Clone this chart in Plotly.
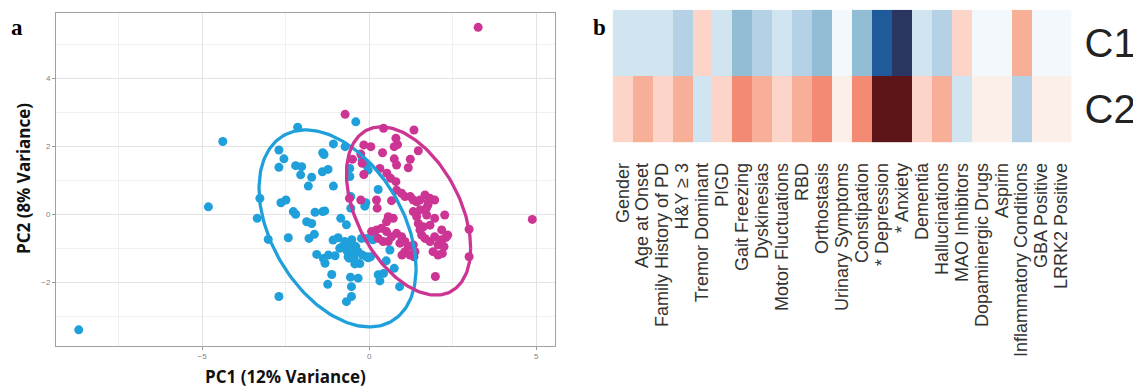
import numpy as np
import plotly.graph_objects as go

# ---------------- data: panel a (PCA scores) ----------------
blue_x = [-8.69, -4.81, -4.38, -2.14, -2.70, -2.55, -2.70, -2.20, -2.02, -2.05,
          -1.72, -1.82, -1.39, -1.35, -1.07, -1.40, -1.23, -1.07, -0.72, -0.40,
          -0.58, -0.58, -0.21, -0.08, -0.03, 0.27, -0.10, -0.13, -0.55, -0.55,
          -3.27, -3.35, -3.02, -2.64, -2.49, -2.27, -2.20, -2.42, -1.87, -1.72,
          -1.62, -1.33, -1.39, -1.80, -1.64, -0.85, -0.68, -1.08, -0.93, -0.73,
          -0.58, -0.68, -0.51, -0.63, -0.45, -0.40, -0.52, -1.57, -1.37, -1.22,
          -1.32, -1.02, -1.12, -1.24, -2.70, -0.68, -0.53, -0.53, -0.56, -0.33,
          -0.23, -0.33, -0.08, -0.28, -0.20, 0.27, 0.32, 0.43, 0.51, 0.75,
          0.91, 0.11, 0.21, -0.03, -0.60, -0.43, -0.88, -0.80, -0.55, 0.04,
          -0.08, 0.62]
blue_y = [-3.40, 0.22, 2.14, 2.56, 1.89, 1.63, 1.38, 1.43, 1.40, 1.16,
          1.09, 0.83, 1.81, 1.76, 2.07, 1.25, 1.32, 0.83, 1.99, 2.72,
          1.35, 1.11, 1.60, 1.45, 1.30, 0.73, 0.34, 0.24, 0.52, 0.18,
          0.47, -0.12, -0.74, 0.34, 0.42, 0.08, 0.00, -0.69, -0.22, -0.27,
          0.06, 0.10, 0.08, -0.71, -0.59, -0.12, -0.31, -0.76, -0.69, -0.80,
          -0.90, -1.05, -1.10, -1.25, -1.30, -0.95, -0.75, -1.18, -1.30, -1.20,
          -1.44, -1.22, -1.77, -2.06, -2.42, -2.57, -2.42, -2.13, -1.85, -1.88,
          -0.71, -1.10, -1.25, -1.45, -1.20, -1.78, -1.96, -1.74, -1.37, -1.59,
          -2.13, -0.75, -0.68, -1.28, -1.29, -1.46, -1.00, -0.95, -1.00, -1.25,
          -0.71, -1.05]

pink_x = [3.26, 4.88, -0.72, 0.43, 1.34, 0.80, 0.85, 0.75, -0.16, 0.05,
          0.40, 1.47, 0.75, 0.82, 1.23, 1.17, -0.50, -0.25, -0.21, -0.16,
          0.32, 0.53, 0.64, 0.80, 0.82, 0.97, 1.07, 1.67, 1.82, 1.96,
          1.77, 1.32, 1.42, 1.52, 0.67, 0.22, -0.59, -0.25, 0.24, 0.57,
          0.72, 0.52, 1.42, 1.32, 1.52, 1.72, 1.96, 1.82, 1.62, 1.47,
          0.07, 0.22, 0.37, 0.52, 0.67, 0.57, 0.42, 0.27, 0.82, 0.97,
          1.07, 0.92, 1.17, 1.07, 1.22, 1.32, 1.37, 1.57, 1.67, 1.82,
          1.96, 2.06, 2.16, 1.91, 2.06, 1.98, 2.26, 2.99, 2.99, 2.19,
          2.24, 2.17, 2.35, 2.30, 0.98, 1.34, 1.52, 1.76, 1.71, 1.23]
pink_y = [5.50, -0.15, 2.94, 2.53, 2.48, 2.24, 2.05, 1.99, 2.04, 1.99,
          1.81, 1.87, 1.63, 1.45, 1.62, 1.37, 1.62, 1.77, 1.50, 1.17,
          1.35, 1.21, 1.06, 0.96, 0.71, 0.62, 0.52, 0.57, 0.47, 0.42,
          0.37, 0.42, 0.37, 0.42, 0.40, 0.42, 0.47, 0.42, 0.18, -0.07,
          -0.12, -0.22, -0.07, 0.08, 0.13, -0.02, -0.12, -0.32, -0.37, -0.27,
          -0.51, -0.46, -0.41, -0.51, -0.66, -0.80, -0.80, -0.71, -0.56, -0.66,
          -0.80, -0.85, -0.95, -1.10, -1.20, -0.90, -1.10, -0.61, -0.71, -0.80,
          -0.66, -0.90, -0.75, -1.10, -1.20, -1.83, -0.02, -0.44, -1.25, -1.15,
          -0.95, -0.46, -0.61, -0.68, -1.20, -1.25, -0.46, 0.27, 0.18, 0.52]

x_ticks = [-5, 0, 5]
y_ticks = [-2, 0, 2, 4]

# ---------------- data: panel b (heatmap) ----------------
features = ["Gender", "Age at Onset", "Family History of PD", "H&Y ≥ 3",
            "Tremor Dominant", "PIGD", "Gait Freezing", "Dyskinesias",
            "Motor Fluctuations", "RBD", "Orthostasis", "Urinary Symptoms",
            "Constipation", "* Depression", "* Anxiety", "Dementia",
            "Hallucinations", "MAO Inhibitors", "Dopaminergic Drugs", "Aspirin",
            "Inflammatory Conditions", "GBA Positive", "LRRK2 Positive"]
c1_values = [-1, -1, -1, -1.5, 1, -1, -2, -1.5, -1, -1.5, -2, -0.3, -2, -3, -4,
             -1, -1.5, 1, -0.3, -0.3, 1.5, -0.3, -0.3]
c2_values = [1, 1.5, 1, 1.5, -1, 1, 2, 1.5, 1, 1.5, 2, 0.3, 2, 4, 4,
             1, 1.5, -1, 0.3, 0.3, -1.5, 0.3, 0.3]
row_labels = ["C1", "C2"]

level_values = [-4, -3, -2, -1.5, -1, -0.3, 0.3, 1, 1.5, 2, 4]
level_colors = ["#2A3661", "#1F5A9A", "#91BDD5", "#B5D1E5", "#D1E5F0", "#F3F8FC",
                "#FCEEE8", "#FCD5C8", "#F8AF98", "#F38B74", "#5D1518"]

BLUE = "#1FA0DA"
PINK = "#CC3593"


# ---------------- stat_ellipse (type = "t") ----------------
def cov_trob(X, nu=5, maxit=25, tol=0.01):
    n, p = X.shape
    wt = np.ones(n)
    loc = X.mean(axis=0)
    w = np.sqrt(wt)
    Xc = X - loc
    for _ in range(maxit):
        w0 = w
        Xc = X - loc
        A = np.sqrt(w / w.sum())[:, None] * Xc
        _, d, vt = np.linalg.svd(A, full_matrices=False)
        wX = Xc @ vt.T @ np.diag(1.0 / d)
        Q = (wX ** 2).sum(axis=1)
        w = (wt * (nu + p)) / (nu + Q)
        loc = (w[:, None] * X).sum(axis=0) / w.sum()
        if np.all(np.abs(w - w0) < tol):
            break
    S = np.sqrt(w)[:, None] * Xc
    cov = S.T @ S / wt.sum()
    return loc, cov


def stat_ellipse(xs, ys, level=0.95, segments=200):
    X = np.column_stack([xs, ys])
    center, shape = cov_trob(X)
    dfd = len(xs) - 1
    fq = (dfd / 2.0) * ((1 - level) ** (-2.0 / dfd) - 1)  # qf(level, 2, dfd)
    radius = np.sqrt(2 * fq)
    theta = np.linspace(0, 2 * np.pi, segments + 1)
    circle = np.column_stack([np.cos(theta), np.sin(theta)])
    R = np.linalg.cholesky(shape).T
    ell = center + radius * (circle @ R)
    return ell[:, 0], ell[:, 1]


bex, bey = stat_ellipse(np.array(blue_x), np.array(blue_y))
pex, pey = stat_ellipse(np.array(pink_x), np.array(pink_y))

# the page body has an 8px margin; positions below are in reference-image pixels
OX, OY = 8, 8
W, H = 1141 - OX, 388 - OY


def fx(px):
    return (px - OX) / W


def fy(py):
    return 1 - (py - OY) / H


fig = go.Figure()

fig.add_trace(go.Scatter(x=blue_x, y=blue_y, mode="markers",
                         marker=dict(color=BLUE, size=9, line=dict(width=0)),
                         xaxis="x", yaxis="y", showlegend=False))
fig.add_trace(go.Scatter(x=pink_x, y=pink_y, mode="markers",
                         marker=dict(color=PINK, size=9, line=dict(width=0)),
                         xaxis="x", yaxis="y", showlegend=False))
fig.add_trace(go.Scatter(x=bex, y=bey, mode="lines",
                         line=dict(color=BLUE, width=3.3),
                         xaxis="x", yaxis="y", showlegend=False))
fig.add_trace(go.Scatter(x=pex, y=pey, mode="lines",
                         line=dict(color=PINK, width=3.3),
                         xaxis="x", yaxis="y", showlegend=False))

# heatmap
zmin, zmax = -4, 4
colorscale = [[(v - zmin) / (zmax - zmin), c] for v, c in zip(level_values, level_colors)]
fig.add_trace(go.Heatmap(z=[c2_values, c1_values], x=list(range(len(features))),
                         y=[0, 1], zmin=zmin, zmax=zmax, colorscale=colorscale,
                         showscale=False, xaxis="x2", yaxis="y2", hoverinfo="skip"))

grid_major = "#E3E3E3"
grid_minor = "#F0F0F0"

fig.update_layout(
    width=W, height=H, autosize=False,
    margin=dict(l=0, r=0, t=0, b=0),
    paper_bgcolor="white", plot_bgcolor="white",
    font=dict(family="Liberation Sans, Arial, sans-serif"),
    xaxis=dict(domain=[fx(56), fx(555)], range=[-9.37, 5.56], anchor="y",
               tickvals=x_ticks, ticks="outside", ticklen=3, tickcolor="#999999",
               tickfont=dict(size=8, color="#808080"),
               showgrid=True, gridcolor=grid_major, gridwidth=1,
               minor=dict(dtick=2.5, tick0=0, showgrid=True, gridcolor=grid_minor, gridwidth=1),
               showline=True, mirror=True, linecolor="#A0A0A0", linewidth=1, zeroline=False),
    yaxis=dict(domain=[fy(345.5), fy(12.7)], range=[-3.86, 5.93], anchor="x",
               tickvals=y_ticks, ticks="outside", ticklen=3, tickcolor="#999999",
               tickfont=dict(size=8, color="#808080"),
               showgrid=True, gridcolor=grid_major, gridwidth=1,
               minor=dict(dtick=1, tick0=0, showgrid=True, gridcolor=grid_minor, gridwidth=1),
               showline=True, mirror=True, linecolor="#A0A0A0", linewidth=1, zeroline=False),
    xaxis2=dict(domain=[fx(612.7), fx(1071.5)], range=[-0.5, len(features) - 0.5], anchor="y2",
                tickvals=list(range(len(features))), ticktext=features, tickangle=-90,
                ticks="", ticklabelstandoff=16, showgrid=False, zeroline=False, showline=False,
                tickfont=dict(size=18, color="#333333", family="Liberation Sans, Arial, sans-serif")),
    yaxis2=dict(domain=[fy(142.3), fy(9.7)], range=[-0.5, 1.5], anchor="x2",
                side="right", tickvals=[1, 0], ticktext=row_labels, ticks="",
                ticklabelstandoff=12, showgrid=False, zeroline=False, showline=False,
                tickfont=dict(size=40, color="#222222", family="Liberation Sans, Arial, sans-serif")),
)

annotations = [
    dict(text="<b>PC1 (12% Variance)</b>", x=fx(285), y=fy(376), xref="paper", yref="paper",
         showarrow=False, xanchor="center", yanchor="middle",
         font=dict(size=17, color="#111111", family="Open Sans, sans-serif")),
    dict(text="<b>PC2 (8% Variance)</b>", x=fx(24), y=fy(179), xref="paper", yref="paper",
         showarrow=False, xanchor="center", yanchor="middle", textangle=-90,
         font=dict(size=17, color="#111111", family="Open Sans, sans-serif")),
    dict(text="<b>a</b>", x=fx(17), y=fy(27), xref="paper", yref="paper",
         showarrow=False, xanchor="center", yanchor="middle",
         font=dict(size=23, color="#000000", family="Liberation Serif, serif")),
    dict(text="<b>b</b>", x=fx(599), y=fy(27), xref="paper", yref="paper",
         showarrow=False, xanchor="center", yanchor="middle",
         font=dict(size=23, color="#000000", family="Liberation Serif, serif")),
]
fig.update_layout(annotations=annotations)

fig.write_html("out.html")
